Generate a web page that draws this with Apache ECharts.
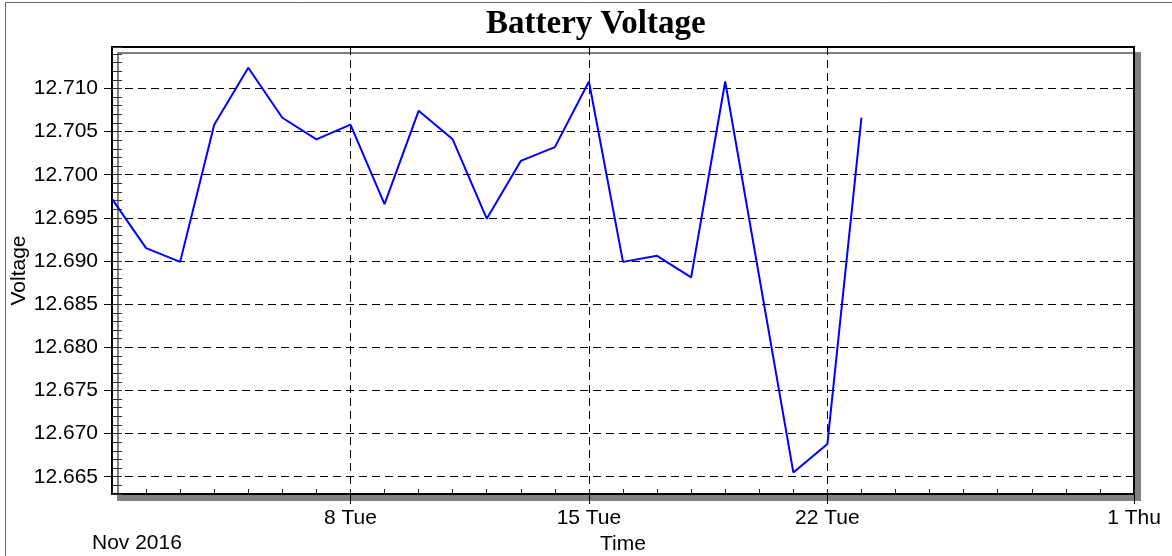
<!DOCTYPE html>
<html>
<head>
<meta charset="utf-8">
<title>Battery Voltage</title>
<script src="https://cdn.jsdelivr.net/npm/echarts@6/dist/echarts.min.js"></script>
<style>
  html, body { margin: 0; padding: 0; background: #fff; }
  #chart { width: 1172px; height: 556px; }
</style>
</head>
<body>
<div id="chart"></div>
<script>
// Battery voltage, Nov 2016 (one reading per day, Nov 20 missing)
var days = [1, 2, 3, 4, 5, 6, 7, 8, 9, 10, 11, 12, 13, 14, 15, 16, 17, 18, 19, 21, 22, 23];
var voltage = [12.6972, 12.6915, 12.6899, 12.7058, 12.7124, 12.7066, 12.7041, 12.7058, 12.6966,
  12.7074, 12.7041, 12.6949, 12.7016, 12.7032, 12.7108, 12.6899, 12.6906, 12.6881, 12.7108,
  12.6655, 12.6688, 12.7066];
var yTicks = [12.665, 12.670, 12.675, 12.680, 12.685, 12.690, 12.695, 12.700, 12.705, 12.710];
var yMin = 12.663, yMax = 12.7148;
// x axis counted in days from Nov 1 2016 (0) to Dec 1 2016 (30)
var xMajor = [7, 14, 21, 30];
var weekdays = ['Sun', 'Mon', 'Tue', 'Wed', 'Thu', 'Fri', 'Sat'];

function dayDate(offset) {
  return new Date(2016, 10, 1 + offset);
}

var seriesData = days.map(function (day, i) {
  return [day - 1, voltage[i]];
});

var font = 'Liberation Sans, Arial, sans-serif';
var gridLine = { show: true, lineStyle: { color: '#000', width: 1, type: [8, 5] } };

var chart = echarts.init(document.getElementById('chart'), null, { renderer: 'canvas' });
chart.setOption({
  animation: false,
  backgroundColor: '#fff',
  title: {
    text: 'Battery Voltage',
    left: 481,
    top: 3,
    textStyle: { fontFamily: 'Liberation Serif, Times New Roman, serif', fontWeight: 'bold', fontSize: 33, color: '#000' }
  },
  graphic: [
    { type: 'rect', silent: true, shape: { x: 5.5, y: 2.5, width: 1200, height: 600 },
      style: { fill: null, stroke: '#666', lineWidth: 1 } },
    { type: 'text', left: 92, top: 533,
      style: { text: 'Nov 2016', font: '21px ' + font, fill: '#000' } }
  ],
  grid: {
    left: 112, top: 47, right: 38, bottom: 62,
    outerBoundsMode: 'none',
    containLabel: false,
    show: true,
    backgroundColor: '#fff',
    borderColor: '#000',
    borderWidth: 2,
    shadowColor: '#808080',
    shadowOffsetX: 6,
    shadowOffsetY: 6,
    shadowBlur: 0
  },
  xAxis: [
    {
      type: 'value', min: 0, max: 30,
      name: 'Time', nameLocation: 'middle', nameGap: 40,
      nameTextStyle: { fontFamily: font, fontSize: 21, color: '#000' },
      axisLine: { show: true, lineStyle: { color: '#000', width: 2 } },
      axisTick: { show: true, customValues: xMajor, length: 10, lineStyle: { color: '#000' } },
      axisLabel: {
        customValues: xMajor, margin: 14,
        fontFamily: font, fontSize: 21, color: '#000',
        formatter: function (v) {
          var dt = dayDate(v);
          return dt.getDate() + ' ' + weekdays[dt.getDay()];
        }
      },
      splitLine: gridLine
    },
    {
      type: 'value', min: 0, max: 30, interval: 1, position: 'bottom',
      axisLine: { show: false },
      axisTick: { show: true, inside: true, length: 5, lineStyle: { color: '#222' } },
      axisLabel: { show: false },
      splitLine: { show: false }
    }
  ],
  yAxis: [
    {
      type: 'value', min: yMin, max: yMax,
      name: 'Voltage', nameLocation: 'middle', nameGap: 82, nameMoveOverlap: false,
      nameTextStyle: { fontFamily: font, fontSize: 21, color: '#000' },
      axisLine: { show: true, lineStyle: { color: '#000', width: 2 } },
      axisTick: { show: true, customValues: yTicks, length: 8, lineStyle: { color: '#000' } },
      axisLabel: {
        customValues: yTicks, margin: 14,
        fontFamily: font, fontSize: 21, color: '#000',
        formatter: function (v) { return v.toFixed(3); }
      },
      splitLine: gridLine
    },
    {
      type: 'value', min: yMin, max: yMax, interval: 0.001, position: 'left',
      axisLine: { show: false },
      axisTick: { show: true, inside: true, length: 10, lineStyle: { color: '#333' } },
      axisLabel: { show: false },
      splitLine: { show: false }
    }
  ],
  series: [{
    type: 'line',
    xAxisIndex: 0,
    yAxisIndex: 0,
    data: seriesData,
    showSymbol: false,
    lineStyle: { color: '#0000ff', width: 2 },
    itemStyle: { color: '#0000ff' }
  }]
});
window.addEventListener('resize', function () { chart.resize(); });
</script>
</body>
</html>
